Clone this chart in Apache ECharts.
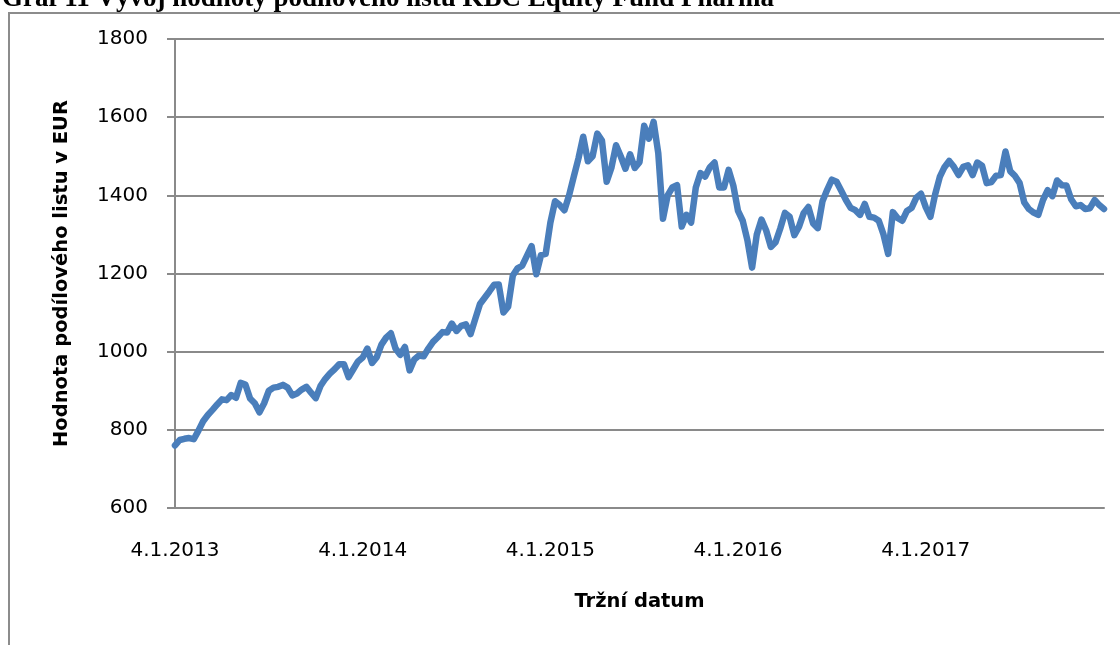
<!DOCTYPE html>
<html>
<head>
<meta charset="utf-8">
<title>Graf 11</title>
<script src="https://cdn.jsdelivr.net/npm/echarts@6.0.0/dist/echarts.min.js"></script>
<style>
  html, body { margin: 0; padding: 0; background: #fff; }
  #chart { width: 1120px; height: 645px; }
</style>
</head>
<body>
<div id="chart"></div>
<script>
// popisky osy x (kazdy 40. bod)
var xLabels = ["4.1.2013", "4.1.2014", "4.1.2015", "4.1.2016", "4.1.2017"];
var pointsPerLabel = 40;

// y osa
var yMin = 600;
var yMax = 1800;
var yStep = 200;

// hodnota podiloveho listu v EUR
var fundValues = [
  760, 774, 777, 779, 776, 798, 822, 838, 851, 865,
  878, 876, 889, 882, 920, 916, 880, 868, 845, 868,
  900, 908, 910, 915, 908, 888, 893, 903, 910, 895,
  881, 912, 930, 944, 955, 968, 968, 935, 955, 975,
  985, 1008, 971, 986, 1018, 1036, 1047, 1008, 992, 1012,
  952, 980, 990, 988, 1008, 1025, 1037, 1050, 1049, 1072,
  1053, 1066, 1070, 1045, 1084, 1122, 1138, 1154, 1171, 1172,
  1100, 1115, 1195, 1213, 1220, 1245, 1270, 1198, 1247, 1250,
  1330, 1385, 1375, 1362, 1400, 1448, 1495, 1550, 1487, 1500,
  1558, 1540, 1435, 1470, 1528, 1500, 1468, 1505, 1470, 1485,
  1578, 1545, 1588, 1508, 1340, 1400, 1420, 1426, 1320, 1350,
  1330, 1420, 1457, 1448, 1472, 1484, 1420, 1420, 1465, 1425,
  1360, 1335, 1285, 1215, 1300, 1338, 1310, 1268, 1280, 1315,
  1355, 1345, 1298, 1320, 1355, 1370, 1328, 1316, 1385, 1414,
  1440, 1435, 1412, 1388, 1368, 1362, 1350, 1378, 1345, 1343,
  1335, 1300, 1250, 1357, 1342, 1335, 1360, 1368, 1394, 1404,
  1370, 1345, 1402, 1447, 1472, 1488, 1473, 1452, 1473, 1477,
  1452, 1484, 1476, 1431, 1434, 1450, 1452, 1512, 1462, 1450,
  1432, 1382, 1365, 1356, 1350, 1388, 1413, 1398, 1438, 1426,
  1425, 1390, 1372, 1375, 1365, 1367, 1388, 1375, 1365
];

var categories = fundValues.map(function (v, i) {
  return i % pointsPerLabel === 0 ? (xLabels[i / pointsPerLabel] || "") : "";
});

var chart = echarts.init(document.getElementById("chart"), null, { renderer: "canvas" });

var gridColor = "#8a8a8a";

chart.setOption({
  animation: false,
  backgroundColor: "#ffffff",
  graphic: [
    {
      type: "rect",
      shape: { x: 9, y: 13, width: 1140, height: 660 },
      style: { fill: "none", stroke: "#8c8c8c", lineWidth: 2 },
      silent: true
    },
    {
      type: "text",
      x: 2,
      y: 13,
      style: {
        text: "Graf 11 Vývoj hodnoty podílového listu KBC Equity Fund Pharma",
        font: "bold 27px 'Liberation Serif'",
        fill: "#000",
        verticalAlign: "bottom"
      },
      silent: true
    }
  ],
  grid: {
    left: 175,
    right: 16,
    top: 39,
    bottom: 137,
    outerBoundsMode: "none"
  },
  xAxis: {
    type: "category",
    data: categories,
    boundaryGap: false,
    name: "Tržní datum",
    nameLocation: "middle",
    nameGap: 84,
    nameTextStyle: {
      fontFamily: "DejaVu Sans",
      fontWeight: "bold",
      fontSize: 19.5,
      color: "#000"
    },
    axisLine: { show: true, lineStyle: { color: gridColor, width: 2 } },
    axisTick: { show: false },
    splitLine: { show: false },
    axisLabel: {
      interval: function (idx, val) { return val !== ""; },
      margin: 33,
      fontFamily: "DejaVu Sans",
      fontSize: 20,
      color: "#000"
    }
  },
  yAxis: {
    type: "value",
    min: yMin,
    max: yMax,
    interval: yStep,
    name: "Hodnota podílového listu v EUR",
    nameLocation: "middle",
    nameGap: 103,
    nameRotate: 90,
    nameTextStyle: {
      fontFamily: "DejaVu Sans",
      fontWeight: "bold",
      fontSize: 19.5,
      color: "#000"
    },
    axisLine: { show: true, lineStyle: { color: gridColor, width: 2 } },
    axisTick: { show: true, inside: false, length: 8, lineStyle: { color: gridColor, width: 2 } },
    splitLine: { show: true, lineStyle: { color: gridColor, width: 2 } },
    axisLabel: {
      margin: 27,
      fontFamily: "DejaVu Sans",
      fontSize: 20,
      color: "#000",
      formatter: function (v) { return String(v); }
    }
  },
  series: [
    {
      name: "KBC Equity Fund Pharma",
      type: "line",
      data: fundValues,
      symbol: "none",
      smooth: false,
      lineStyle: { color: "#4a7ebb", width: 6.5, join: "round", cap: "round" },
      itemStyle: { color: "#4a7ebb" }
    }
  ]
});
</script>
</body>
</html>
